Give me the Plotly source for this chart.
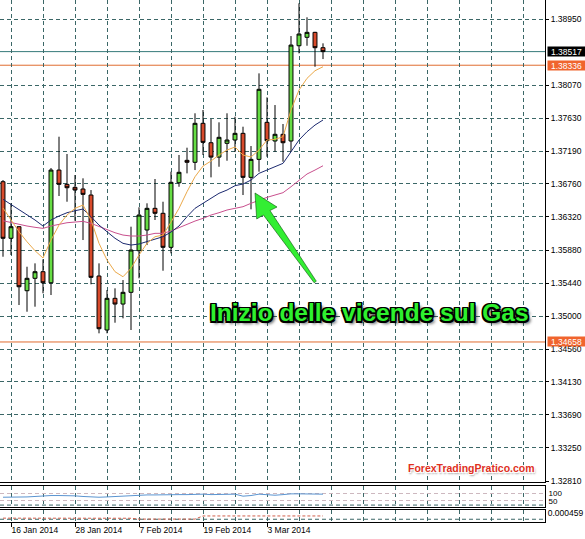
import plotly.graph_objects as go

# ---------------------------------------------------------------------------
# Data (daily candles, 15 Jan - 12 Mar 2014)
# ---------------------------------------------------------------------------
dates = ["15 Jan 2014", "16 Jan 2014", "17 Jan 2014", "20 Jan 2014", "21 Jan 2014",
         "22 Jan 2014", "23 Jan 2014", "24 Jan 2014", "27 Jan 2014", "28 Jan 2014",
         "29 Jan 2014", "30 Jan 2014", "31 Jan 2014", "3 Feb 2014", "4 Feb 2014",
         "5 Feb 2014", "6 Feb 2014", "7 Feb 2014", "10 Feb 2014", "11 Feb 2014",
         "12 Feb 2014", "13 Feb 2014", "14 Feb 2014", "17 Feb 2014", "18 Feb 2014",
         "19 Feb 2014", "20 Feb 2014", "21 Feb 2014", "24 Feb 2014", "25 Feb 2014",
         "26 Feb 2014", "27 Feb 2014", "28 Feb 2014", "3 Mar 2014", "4 Mar 2014",
         "5 Mar 2014", "6 Mar 2014", "7 Mar 2014", "10 Mar 2014", "11 Mar 2014",
         "12 Mar 2014"]

opens = [1.36788, 1.36036, 1.36190, 1.35339, 1.35504, 1.35592, 1.35445, 1.36943, 1.36753,
         1.36713, 1.36691, 1.36611, 1.35535, 1.34817, 1.35238, 1.35162, 1.35318, 1.35871,
         1.36146, 1.36434, 1.36368, 1.35916, 1.36774, 1.37072, 1.37046, 1.37564, 1.37306,
         1.37115, 1.37298, 1.37342, 1.37431, 1.36846, 1.37085, 1.37577, 1.37329, 1.37418,
         1.37329, 1.38595, 1.38707, 1.38773, 1.38569]
highs = [1.36810, 1.36501, 1.36195, 1.35658, 1.35703, 1.35756, 1.36970, 1.37386, 1.37156,
         1.36877, 1.36833, 1.36677, 1.35703, 1.35348, 1.35371, 1.35481, 1.36190, 1.36448,
         1.36501, 1.36824, 1.36522, 1.36921, 1.37143, 1.37240, 1.37697, 1.37741, 1.37621,
         1.37577, 1.37697, 1.37652, 1.37519, 1.37262, 1.38228, 1.37909, 1.37807, 1.37555,
         1.38724, 1.39159, 1.38973, 1.38780, 1.38627]
lows = [1.35791, 1.35814, 1.35149, 1.35060, 1.35127, 1.35305, 1.35282, 1.36598, 1.36522,
        1.36269, 1.36013, 1.35424, 1.34773, 1.34773, 1.34914, 1.34972, 1.34817, 1.35504,
        1.35946, 1.36279, 1.35605, 1.35836, 1.36721, 1.36899, 1.36943, 1.37143, 1.36846,
        1.36987, 1.37067, 1.37182, 1.36611, 1.36421, 1.36921, 1.37120, 1.37186, 1.37054,
        1.37186, 1.38494, 1.38595, 1.38316, 1.38418]
closes = [1.36036, 1.36190, 1.35392, 1.35504, 1.35592, 1.35445, 1.36943, 1.36753, 1.36708,
          1.36677, 1.36620, 1.35517, 1.34834, 1.35238, 1.35162, 1.35318, 1.35880, 1.36345,
          1.36434, 1.36368, 1.35916, 1.36780, 1.36913, 1.37046, 1.37564, 1.37311, 1.37115,
          1.37378, 1.37342, 1.37431, 1.36846, 1.37085, 1.38016, 1.37333, 1.37418, 1.37306,
          1.38604, 1.38751, 1.38773, 1.38569, 1.38517]

# moving averages (orange fast, navy medium, pink slow)
ma_fast = [1.36438, 1.36279, 1.36123, 1.35990, 1.35871, 1.35774, 1.36013, 1.36212, 1.36345,
           1.36434, 1.36478, 1.36279, 1.35969, 1.35747, 1.35592, 1.35525, 1.35637, 1.35814,
           1.35969, 1.36057, 1.36079, 1.36252, 1.36434, 1.36655, 1.36854, 1.36996, 1.37063,
           1.37143, 1.37209, 1.37249, 1.37143, 1.37116, 1.37209, 1.37342, 1.37351, 1.37386,
           1.37741, 1.38006, 1.38162, 1.38263, 1.38316]
ma_mid = [1.36554, 1.36487, 1.36412, 1.36345, 1.36279, 1.36199, 1.36279, 1.36332, 1.36376,
          1.36402, 1.36425, 1.36323, 1.36212, 1.36123, 1.36036, 1.35969, 1.35946, 1.35960,
          1.35990, 1.36022, 1.36057, 1.36119, 1.36199, 1.36323, 1.36434, 1.36501, 1.36567,
          1.36634, 1.36677, 1.36735, 1.36757, 1.36810, 1.36899, 1.36943, 1.36987, 1.37032,
          1.37186, 1.37342, 1.37452, 1.37541, 1.37608]
ma_slow = [1.36269, 1.36243, 1.36222, 1.36199, 1.36182, 1.36168, 1.36199, 1.36226, 1.36243,
           1.36252, 1.36261, 1.36235, 1.36190, 1.36146, 1.36110, 1.36079, 1.36066, 1.36066,
           1.36079, 1.36102, 1.36102, 1.36133, 1.36179, 1.36226, 1.36265, 1.36301, 1.36345,
           1.36376, 1.36412, 1.36434, 1.36456, 1.36501, 1.36545, 1.36580, 1.36611, 1.36642,
           1.36721, 1.36810, 1.36890, 1.36943, 1.37000]

# lower windows
osc_values = [73, 73, 72, 75, 78, 82, 84, 84, 84, 82, 78, 75, 73, 75, 78, 82, 84, 86, 88, 88,
              90, 90, 90, 90, 93, 93, 90, 90, 93, 93, 80, 84, 93, 88, 86, 90, 95, 95, 95, 95, 93]
osc_levels = [100, 50]
osc2_values = [-0.00003, -0.00003, -0.00002, -0.00003, -0.00003, -0.00004, -0.00003, -0.00003,
               -0.00002, -0.00003, -0.00003, -0.00004, -0.00004, -0.00003, -0.00003, -0.00004,
               -0.00004, -0.00012, -0.00012, -0.00011, -0.00012, -0.00012, -0.00013, -0.00012,
               -0.00012, 0.00018, 0.00018, 0.00017, 0.00018, 0.00018, 0.00019, 0.00018, 0.00018,
               0.00018, 0.00019, 0.00018, 0.00018, 0.00018, 0.00019, 0.00018, 0.00018]
osc2_ticks = [0.000459]

price_ticks = [1.38950, 1.38070, 1.37630, 1.37190, 1.36760, 1.36320, 1.35880, 1.35440,
               1.35000, 1.34560, 1.34130, 1.33690, 1.33250, 1.32810]
label_idx = [1, 9, 17, 25, 33]
last_price = 1.38517
level_hi = 1.38336
level_lo = 1.34658

# ---------------------------------------------------------------------------
# Styles
# ---------------------------------------------------------------------------
GREEN = "#66dd44"
RED = "#d84a2b"
GRID = "#3b6767"
DASH = "4px,3px"
ORANGE_LINE = "#e06c30"
ORANGE_BOX = "#f0642d"
FONT = "Liberation Sans, Arial, sans-serif"

PLOT_W, PLOT_H = 545, 522


def paper(px, py):
    """pixel position inside the plot area -> paper coords"""
    return px / PLOT_W, 1 - py / PLOT_H


x = list(range(len(dates)))
grid_idx = list(range(1, 68, 4))

fig = go.Figure()

fig.add_trace(go.Candlestick(
    x=x, open=opens, high=highs, low=lows, close=closes,
    increasing=dict(line=dict(color="black", width=1), fillcolor=GREEN),
    decreasing=dict(line=dict(color="black", width=1), fillcolor=RED),
    whiskerwidth=0, showlegend=False, hoverinfo="skip",
    xaxis="x", yaxis="y",
))
for vals, col in [(ma_slow, "#c9508e"), (ma_mid, "#1c2a70"), (ma_fast, "#eba94a")]:
    fig.add_trace(go.Scatter(x=x, y=vals, mode="lines", line=dict(color=col, width=1),
                             showlegend=False, hoverinfo="skip", xaxis="x", yaxis="y"))

fig.add_trace(go.Scatter(x=x, y=osc_values, mode="lines",
                         line=dict(color="#5a94d0", width=1),
                         showlegend=False, hoverinfo="skip", xaxis="x2", yaxis="y2"))
fig.add_trace(go.Scatter(x=x, y=osc2_values, mode="lines",
                         line=dict(color="#d0604c", width=1, dash="3px,2px"),
                         showlegend=False, hoverinfo="skip", xaxis="x3", yaxis="y3"))

# horizontal price lines
for val, col in [(last_price, "#357a7a"), (level_hi, ORANGE_LINE), (level_lo, ORANGE_LINE)]:
    fig.add_shape(type="line", xref="paper", x0=0, x1=1, yref="y", y0=val, y1=val,
                  line=dict(color=col, width=1), layer="below")

# dark dashed base lines of the lower windows
for yr, frac in [("y2 domain", 0.09), ("y3 domain", 0.22)]:
    fig.add_shape(type="line", xref="paper", x0=0, x1=1, yref=yr, y0=frac, y1=frac,
                  line=dict(color=GRID, width=1, dash=DASH), layer="below")

# price boxes on the right axis
for val, bg in [(last_price, "black"), (level_hi, ORANGE_BOX), (level_lo, ORANGE_BOX)]:
    fig.add_annotation(x=1, xref="paper", xanchor="left", xshift=2,
                       y=val, yref="y", yanchor="middle",
                       text="%.5f" % val, showarrow=False,
                       bgcolor=bg, borderpad=0, width=37, height=9,
                       font=dict(family=FONT, size=8.5, color="white"))

# big green arrow
pts = [(255, 193), (277, 207), (270, 210.5), (316.3, 281.2), (314.2, 282.8),
       (263.4, 215), (256.7, 219)]
path = "M " + " L ".join("%.4f,%.4f" % paper(*p) for p in pts) + " Z"
fig.add_shape(type="path", xref="paper", yref="paper", path=path,
              fillcolor="#33ee33", line=dict(color="rgba(0,70,0,0.55)", width=1))

tx, ty = paper(369, 312)
fig.add_annotation(x=tx, y=ty, xref="paper", yref="paper", showarrow=False,
                   xanchor="center", yanchor="middle",
                   text="<b>Inizio delle vicende sul Gas</b>",
                   font=dict(family=FONT, size=24.5, color="#2ef02e",
                             shadow="-1.5px -1.5px 0 #000, 1.5px -1.5px 0 #000, "
                                    "-1.5px 1.5px 0 #000, 1.5px 1.5px 0 #000, "
                                    "0 1.5px 0 #000, 0 -1.5px 0 #000, 1.5px 0 0 #000, "
                                    "-1.5px 0 0 #000, 3px 3px 3px rgba(0,0,0,0.6)"))

wx, wy = paper(471.5, 468.3)
fig.add_annotation(x=wx, y=wy, xref="paper", yref="paper", showarrow=False,
                   xanchor="center", yanchor="middle",
                   text="<b>ForexTradingPratico.com</b>",
                   font=dict(family=FONT, size=10.5, color="#e0301e",
                             shadow="-1px -1px 0 #fff, 1px -1px 0 #fff, -1px 1px 0 #fff, "
                                    "1px 1px 0 #fff, 1px 2px 2px #999"))

frame = dict(showline=True, linecolor="black", linewidth=1, mirror=True)
xcommon = dict(range=[-0.375, 67.75], showgrid=True, gridcolor=GRID, griddash=DASH,
               tickmode="array", tickvals=grid_idx, zeroline=False, fixedrange=True, **frame)

fig.update_layout(
    width=585, height=539,
    margin=dict(l=0, r=40, t=0, b=17),
    paper_bgcolor="white", plot_bgcolor="white",
    font=dict(family=FONT, size=8.5, color="black"),
    showlegend=False,
    xaxis=dict(anchor="y", showticklabels=False, ticks="",
               rangeslider=dict(visible=False), **xcommon),
    xaxis2=dict(anchor="y2", matches="x", showticklabels=False, ticks="", **xcommon),
    xaxis3=dict(anchor="y3", matches="x", showticklabels=False, ticks="", **xcommon),
    yaxis=dict(domain=[40 / 522, 1], range=[1.32797, 1.39203], side="right",
               tickmode="array", tickvals=price_ticks,
               ticktext=["%.5f" % v for v in price_ticks],
               ticks="outside", ticklen=3, tickcolor="black",
               showgrid=True, gridcolor=GRID, griddash=DASH, zeroline=False, **frame),
    yaxis2=dict(domain=[15 / 522, 36.5 / 522], range=[9.5, 149.3], side="right",
                tickmode="array", tickvals=osc_levels, ticks="", ticklabelstandoff=1,
                tickfont=dict(size=8),
                showgrid=True, gridcolor="#cdb8bf", griddash=DASH, zeroline=False, **frame),
    yaxis3=dict(domain=[0, 12.5 / 522], range=[-0.0004, 0.0008], side="right",
                tickmode="array", tickvals=osc2_ticks, ticktext=["0.000459"],
                ticks="", showgrid=False, zeroline=False, **frame),
)

# date labels: separate axis overlay to get ticks only at labelled dates
fig.update_layout(
    xaxis4=dict(overlaying="x3", anchor="y3", matches="x", side="bottom",
                tickmode="array", tickvals=label_idx,
                ticktext=[dates[i] for i in label_idx],
                ticks="outside", ticklen=4, tickcolor="black",
                ticklabelposition="outside right", showgrid=False, zeroline=False,
                showline=False, tickfont=dict(size=8.5)),
)
fig.add_trace(go.Scatter(x=[None], y=[None], xaxis="x4", yaxis="y3", showlegend=False))

fig.write_html("out.html", config={"displayModeBar": False},
               post_script="document.body.style.margin='0';")
